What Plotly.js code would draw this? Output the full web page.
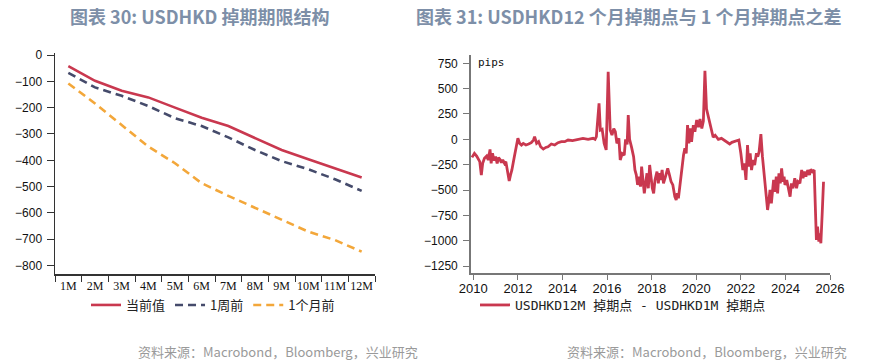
<!DOCTYPE html>
<html><head><meta charset="utf-8">
<script src="https://cdn.plot.ly/plotly-3.0.1.min.js"></script>
<style>html,body{margin:0;padding:0;background:#fff;}#c{width:872px;height:363px;}</style>
</head><body><div id="c"></div>
<script>
// Left chart: USDHKD swap term structure
const tenors = ['1M','2M','3M','4M','5M','6M','7M','8M','9M','10M','11M','12M'];
const current = [-42,-98,-136,-161,-200,-238,-270,-316,-361,-396,-430,-465];
const weekAgo = [-68,-123,-155,-194,-240,-270,-313,-361,-403,-434,-472,-516];
const monthAgo = [-108,-184,-266,-348,-411,-487,-535,-580,-624,-671,-703,-747];

// Right chart: 12M minus 1M swap points (pips)
const years = [2009.94,2010.05,2010.15,2010.22,2010.29,2010.36,2010.42,2010.5,2010.6,2010.67,2010.75,2010.8,2010.86,2010.93,2011.0,2011.07,2011.13,2011.19,2011.26,2011.32,2011.4,2011.46,2011.53,2011.61,2011.67,2011.73,2011.84,2011.92,2012.0,2012.08,2012.16,2012.24,2012.36,2012.48,2012.6,2012.7,2012.75,2012.84,2012.93,2013.02,2013.14,2013.25,2013.35,2013.5,2013.65,2013.8,2013.95,2014.1,2014.25,2014.45,2014.7,2014.92,2015.15,2015.37,2015.46,2015.52,2015.58,2015.64,2015.7,2015.78,2015.87,2015.96,2016.05,2016.14,2016.22,2016.3,2016.37,2016.44,2016.53,2016.59,2016.68,2016.77,2016.83,2016.9,2016.95,2017.01,2017.1,2017.19,2017.25,2017.31,2017.37,2017.43,2017.5,2017.55,2017.61,2017.67,2017.73,2017.79,2017.85,2017.91,2017.97,2018.03,2018.09,2018.15,2018.24,2018.3,2018.35,2018.4,2018.47,2018.53,2018.62,2018.72,2018.78,2018.87,2018.95,2019.04,2019.1,2019.15,2019.2,2019.26,2019.37,2019.43,2019.49,2019.55,2019.61,2019.67,2019.73,2019.79,2019.87,2019.94,2020.02,2020.1,2020.17,2020.25,2020.32,2020.39,2020.46,2020.54,2020.61,2020.68,2020.76,2020.85,2020.99,2021.13,2021.3,2021.5,2021.6,2021.73,2021.91,2022.0,2022.09,2022.16,2022.23,2022.3,2022.36,2022.42,2022.48,2022.55,2022.62,2022.7,2022.76,2022.82,2022.9,2022.97,2023.04,2023.12,2023.2,2023.26,2023.31,2023.37,2023.47,2023.53,2023.59,2023.65,2023.71,2023.77,2023.83,2023.89,2023.94,2023.98,2024.06,2024.12,2024.21,2024.27,2024.34,2024.42,2024.5,2024.56,2024.65,2024.73,2024.79,2024.85,2024.92,2025.0,2025.08,2025.14,2025.21,2025.29,2025.32,2025.35,2025.39,2025.44,2025.5,2025.55,2025.59,2025.65,2025.71];
const pips = [-178,-138,-165,-200,-220,-352,-237,-187,-165,-204,-99,-237,-138,-210,-171,-237,-180,-197,-230,-204,-237,-220,-302,-411,-352,-302,-171,-89,10,-40,-56,-40,-56,-46,-33,-7,26,-40,-23,-73,-96,-80,-73,-46,-56,-33,-23,-23,-7,-13,0,10,0,10,0,26,190,355,92,100,-40,-105,667,92,42,105,75,-40,10,-204,-140,-155,0,-50,240,0,-80,-171,-302,-351,-450,-368,-466,-270,-401,-533,-434,-335,-483,-253,-368,-483,-533,-401,-319,-434,-335,-401,-302,-434,-368,-286,-335,-417,-450,-566,-599,-533,-582,-466,-270,-155,-89,-140,141,-40,108,-25,141,75,190,120,200,108,180,677,300,223,158,100,20,40,0,10,-20,-46,-30,-23,-7,-138,-303,-237,-401,-56,-270,-138,-303,-204,-253,-138,-171,-122,52,-171,-319,-467,-697,-599,-500,-632,-401,-517,-368,-533,-335,-434,-286,-417,-368,-450,-401,-467,-566,-434,-483,-384,-483,-417,-434,-303,-384,-319,-368,-303,-352,-297,-319,-303,-467,-796,-993,-862,-1010,-928,-1026,-730,-418];
const yTicksRight = [750,500,250,0,-250,-500,-750,-1000,-1250];
const yTicksLeft = [0,-100,-200,-300,-400,-500,-600,-700,-800];
const xTicksRight = [2010,2012,2014,2016,2018,2020,2022,2024,2026];

const W = 872, H = 363;
const px = v => v / W;
const py = v => 1 - v / H;

const RED = '#c9384f', NAVY = '#454b6b', ORANGE = '#f3a73a';
const serif = 'Liberation Serif, Times New Roman, serif';
const sans = 'Liberation Sans, Arial, sans-serif';
const cjk = 'Noto Sans CJK SC, sans-serif';

const traces = [
  {x: tenors, y: current, name: '当前值', type: 'scatter', mode: 'lines', xaxis: 'x', yaxis: 'y',
   line: {color: RED, width: 2.6}, legend: 'legend'},
  {x: tenors, y: weekAgo, name: '1周前', type: 'scatter', mode: 'lines', xaxis: 'x', yaxis: 'y',
   line: {color: NAVY, width: 2.6, dash: '8px,5px'}, legend: 'legend'},
  {x: tenors, y: monthAgo, name: '1个月前', type: 'scatter', mode: 'lines', xaxis: 'x', yaxis: 'y',
   line: {color: ORANGE, width: 2.6, dash: '8px,5px'}, legend: 'legend'},
  {x: years, y: pips, name: 'USDHKD12M 掉期点 - USDHKD1M 掉期点', type: 'scatter', mode: 'lines', xaxis: 'x2', yaxis: 'y2',
   line: {color: RED, width: 2.8}, legend: 'legend2'}
];

const layout = {
  width: W, height: H,
  margin: {l: 0, r: 0, t: 0, b: 0},
  paper_bgcolor: '#fff', plot_bgcolor: '#fff',
  showlegend: true,
  xaxis: {
    domain: [px(55), px(375)], anchor: 'y', type: 'category',
    range: [-0.5, 11.5], tickson: 'boundaries', ticks: 'outside', ticklen: 6, tickcolor: '#333',
    showline: true, linecolor: '#333', linewidth: 1.5, showgrid: false, zeroline: false,
    tickangle: 0, tickfont: {family: serif, size: 12, color: '#111'}, fixedrange: true
  },
  yaxis: {
    domain: [py(274.3), py(53)], anchor: 'x',
    range: [-833, 7.6], tickvals: yTicksLeft, ticks: 'outside', ticklen: 7, tickcolor: '#333',
    showline: true, linecolor: '#333', linewidth: 1.5, showgrid: false, zeroline: false,
    tickfont: {family: sans, size: 12, color: '#111'}, ticklabelstandoff: 2
  },
  xaxis2: {
    domain: [px(470.7), px(830)], anchor: 'y2',
    range: [2009.883, 2026.0], tickvals: xTicksRight, ticktext: xTicksRight.map(String),
    ticks: 'outside', ticklen: 5, tickcolor: '#777', tickangle: 0, ticklabelstandoff: -2,
    showline: true, linecolor: '#777', linewidth: 1.5, showgrid: false, zeroline: false,
    tickfont: {family: sans, size: 13, color: '#111'}
  },
  yaxis2: {
    domain: [py(273), py(55)], anchor: 'x2',
    range: [-1319, 832], tickvals: yTicksRight, ticks: 'outside', ticklen: 6, tickcolor: '#777',
    showline: true, linecolor: '#777', linewidth: 1.5, showgrid: false, zeroline: false,
    tickfont: {family: sans, size: 12, color: '#111'}, ticklabelstandoff: 3
  },
  legend: {
    orientation: 'h', x: px(86), y: py(290), xanchor: 'left', yanchor: 'top',
    font: {family: cjk, size: 13, color: '#222'}, itemwidth: 30,
    bgcolor: 'rgba(0,0,0,0)', itemclick: false
  },
  legend2: {
    orientation: 'h', x: px(475), y: py(290), xanchor: 'left', yanchor: 'top',
    font: {family: 'DejaVu Sans Mono, Noto Sans CJK SC, monospace', size: 13, color: '#222'}, itemwidth: 30,
    bgcolor: 'rgba(0,0,0,0)', itemclick: false
  },
  annotations: [
    {text: '<b>图表 30: USDHKD 掉期期限结构</b>', xref: 'paper', yref: 'paper', x: px(200), y: py(16),
     xanchor: 'center', yanchor: 'middle', showarrow: false,
     font: {family: cjk, size: 18, color: '#7d8fa8'}},
    {text: '<b>图表 31: USDHKD12 个月掉期点与 1 个月掉期点之差</b>', xref: 'paper', yref: 'paper', x: px(629), y: py(16),
     xanchor: 'center', yanchor: 'middle', showarrow: false,
     font: {family: cjk, size: 18, color: '#7d8fa8'}},
    {text: '资料来源：Macrobond，Bloomberg，兴业研究', xref: 'paper', yref: 'paper', x: px(420), y: py(351),
     xanchor: 'right', yanchor: 'middle', showarrow: false,
     font: {family: cjk, size: 13, color: '#9a9a9a'}},
    {text: '资料来源：Macrobond，Bloomberg，兴业研究', xref: 'paper', yref: 'paper', x: px(849), y: py(351),
     xanchor: 'right', yanchor: 'middle', showarrow: false,
     font: {family: cjk, size: 13, color: '#9a9a9a'}},
    {text: 'pips', xref: 'paper', yref: 'paper', x: px(476), y: py(63),
     xanchor: 'left', yanchor: 'middle', showarrow: false,
     font: {family: 'DejaVu Sans Mono, monospace', size: 11, color: '#111'}}
  ]
};

Plotly.newPlot('c', traces, layout, {staticPlot: true, displayModeBar: false});
</script>
</body></html>
